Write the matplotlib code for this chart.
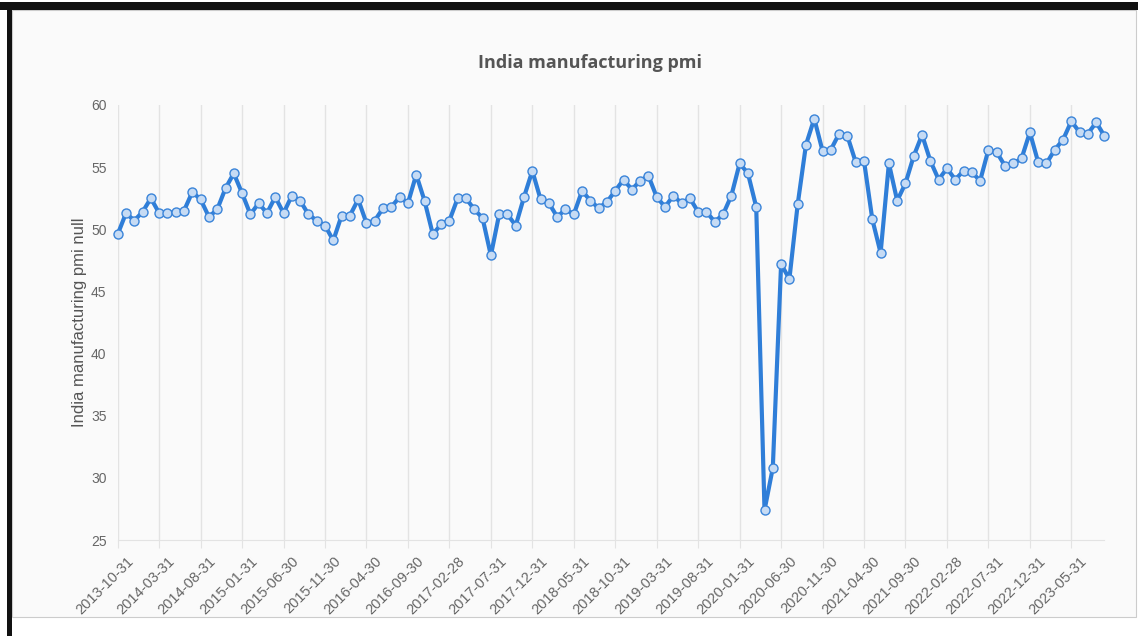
# coding=utf-8

from matplotlib import pyplot as plt
from matplotlib.patches import Rectangle
import matplotlib.transforms as mtrans
import pandas as pd
import numpy as np

# monthly PMI readings, Oct 2013 .. Sep 2023
dates = pd.date_range('2013-10-31', periods=120, freq='ME')
pmi = [
    49.6, 51.3, 50.7,
    51.4, 52.5, 51.3, 51.3, 51.4, 51.5, 53.0, 52.4, 51.0, 51.6, 53.3, 54.5,
    52.9, 51.2, 52.1, 51.3, 52.6, 51.3, 52.7, 52.3, 51.2, 50.7, 50.3, 49.1,
    51.1, 51.1, 52.4, 50.5, 50.7, 51.7, 51.8, 52.6, 52.1, 54.4, 52.3, 49.6,
    50.4, 50.7, 52.5, 52.5, 51.6, 50.9, 47.9, 51.2, 51.2, 50.3, 52.6, 54.7,
    52.4, 52.1, 51.0, 51.6, 51.2, 53.1, 52.3, 51.7, 52.2, 53.1, 54.0, 53.2,
    53.9, 54.3, 52.6, 51.8, 52.7, 52.1, 52.5, 51.4, 51.4, 50.6, 51.2, 52.7,
    55.3, 54.5, 51.8, 27.4, 30.8, 47.2, 46.0, 52.0, 56.8, 58.9, 56.3, 56.4,
    57.7, 57.5, 55.4, 55.5, 50.8, 48.1, 55.3, 52.3, 53.7, 55.9, 57.6, 55.5,
    54.0, 54.9, 54.0, 54.7, 54.6, 53.9, 56.4, 56.2, 55.1, 55.3, 55.7, 57.8,
    55.4, 55.3, 56.4, 57.2, 58.7, 57.8, 57.7, 58.6, 57.5,
]
yticks = [25, 30, 35, 40, 45, 50, 55, 60]

W, H = 1138, 636
fig = plt.figure(figsize=(W / 100, H / 100), dpi=100)
fig.patch.set_facecolor('white')

# framed panel like the screenshot
fig.add_artist(Rectangle((12 / W, 1 - 617 / H), (1136 - 12) / W, (617 - 10) / H,
                         transform=fig.transFigure, facecolor='#fafafa',
                         edgecolor='#cccccc', lw=0.8, zorder=-2))
fig.add_artist(Rectangle((0, 1 - 10 / H), 1, 8 / H, transform=fig.transFigure,
                         facecolor='#111111', edgecolor='none', zorder=-1))
fig.add_artist(Rectangle((7 / W, 0), 5 / W, 1 - 2 / H, transform=fig.transFigure,
                         facecolor='#111111', edgecolor='none', zorder=-1))

ax = fig.add_axes([117.7 / W, 1 - 540 / H, 986.8 / W, 435 / H])
ax.set_facecolor('none')

x = np.arange(len(pmi))
ax.plot(x, pmi, color='#2f7ed8', lw=3, marker='o', ms=6.5,
        mfc='#c6dbf4', mec='#3a84d9', mew=1.0, zorder=3, clip_on=False)

ax.set_xlim(0, len(pmi) - 1)
ax.set_ylim(25, 60)
ax.set_yticks(yticks)

ticks = x[::5]
ax.set_xticks(ticks)
ax.set_xticklabels([d.strftime('%Y-%m-%d') for d in dates[::5]],
                   rotation=45, ha='right', va='top', rotation_mode='anchor')
ax.grid(axis='x', color='#e3e3e3', lw=1)
ax.set_axisbelow(True)

for s in ['top', 'right', 'left']:
    ax.spines[s].set_visible(False)
ax.spines['bottom'].set_color('#e3e3e3')

ax.tick_params(axis='x', length=6, color='#e3e3e3', pad=4,
               labelsize=10.5, labelcolor='#666666')
ax.tick_params(axis='y', length=0, pad=8, labelsize=10, labelcolor='#666666')
for lab in ax.get_xticklabels():
    lab.set_fontfamily('Liberation Sans')
    lab.set_transform(lab.get_transform() + mtrans.ScaledTranslation(6 / 72, 0, fig.dpi_scale_trans))
for lab in ax.get_yticklabels():
    lab.set_fontfamily('Liberation Sans')

ax.set_ylabel('India manufacturing pmi null', fontsize=12, color='#555555',
              family='Liberation Sans', labelpad=3)

fig.text(590 / W, 1 - 63 / H, 'India manufacturing pmi', ha='center', va='center',
         fontsize=13, fontweight='bold', family='Open Sans', color='#555555')

fig.savefig('out.png', dpi=100, facecolor=fig.get_facecolor())
